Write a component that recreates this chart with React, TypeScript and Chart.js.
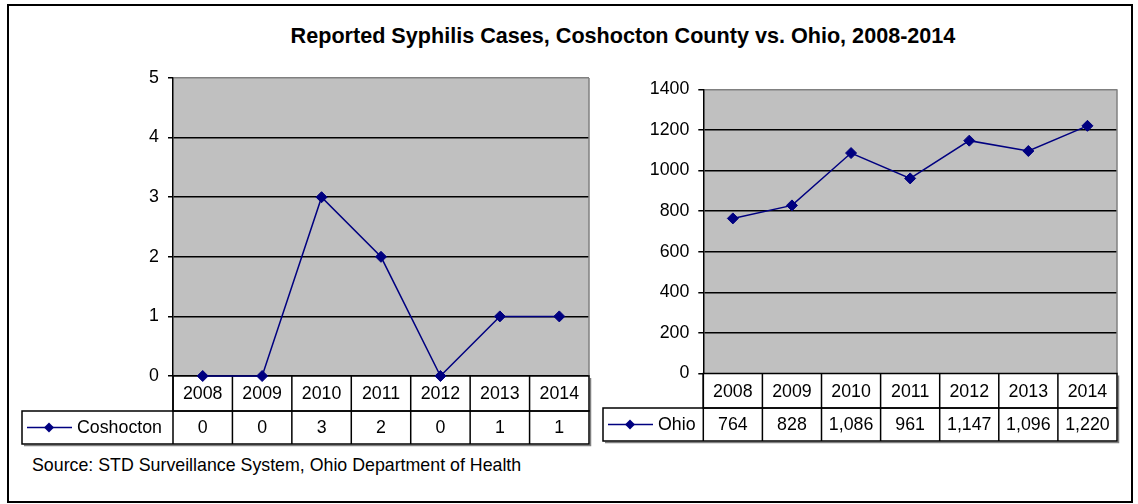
import React, { useEffect, useRef } from 'react';
import { Chart, registerables } from 'chart.js';

Chart.register(...registerables);

const FONT = '"Liberation Sans", Arial, Helvetica, sans-serif';
const NAVY = '#000080';
const TEXT_SIZE = 17.8;

const chartTitle = 'Reported Syphilis Cases, Coshocton County vs. Ohio, 2008-2014';
const sourceNote = 'Source: STD Surveillance System, Ohio Department of Health';

const years = ['2008', '2009', '2010', '2011', '2012', '2013', '2014'];
const coshoctonCases = [0, 0, 3, 2, 0, 1, 1];
const ohioCases = [764, 828, 1086, 961, 1147, 1096, 1220];

const coshoctonAxis = { min: 0, max: 5, step: 1 };
const ohioAxis = { min: 0, max: 1400, step: 200 };

type PanelCfg = {
  name: string;
  values: number[];
  axis: { min: number; max: number; step: number };
  width: number;
  padding: { left: number; right: number; top: number; bottom: number };
  yWidth: number;
  legendLeft: number;
  row1: number;
  row2: number;
};

function tablePlugin(cfg: PanelCfg) {
  return {
    id: 'plotTable',
    beforeDraw(chart: any) {
      const { ctx, chartArea: a } = chart;
      ctx.save();
      ctx.fillStyle = '#C0C0C0';
      ctx.fillRect(a.left, a.top, a.right - a.left, a.bottom - a.top);
      ctx.restore();
    },
    beforeDatasetsDraw(chart: any) {
      const { ctx, chartArea: a } = chart;
      const x = chart.scales.x;
      const n = cfg.values.length;
      const band = (a.right - a.left) / n;
      const y0 = a.bottom;
      const y1 = y0 + cfg.row1;
      const y2 = y1 + cfg.row2;
      ctx.save();
      ctx.strokeStyle = '#808080';
      ctx.lineWidth = 1.5;
      ctx.beginPath();
      ctx.moveTo(a.right, a.top);
      ctx.lineTo(a.right, a.bottom);
      ctx.stroke();
      ctx.beginPath();
      ctx.moveTo(a.right + 1.5, y0 + 2);
      ctx.lineTo(a.right + 1.5, y2 + 1.5);
      ctx.lineTo(cfg.legendLeft + 2, y2 + 1.5);
      ctx.stroke();
      ctx.fillStyle = '#FFFFFF';
      ctx.fillRect(a.left, y0, a.right - a.left, cfg.row1);
      ctx.fillRect(cfg.legendLeft, y1, a.right - cfg.legendLeft, cfg.row2);
      ctx.strokeStyle = '#000000';
      ctx.lineWidth = 1.5;
      ctx.strokeRect(a.left, y0, a.right - a.left, cfg.row1);
      ctx.strokeRect(cfg.legendLeft, y1, a.right - cfg.legendLeft, cfg.row2);
      ctx.beginPath();
      for (let i = 0; i < n; i++) {
        const cx = x.getPixelForValue(i);
        const bx = cx - band / 2;
        ctx.moveTo(bx, y0);
        ctx.lineTo(bx, y2);
      }
      ctx.stroke();
      ctx.fillStyle = '#000000';
      ctx.font = `${TEXT_SIZE}px ${FONT}`;
      ctx.textAlign = 'center';
      ctx.textBaseline = 'middle';
      for (let i = 0; i < n; i++) {
        const cx = x.getPixelForValue(i);
        ctx.fillText(String(chart.data.labels[i]), cx, (y0 + y1) / 2 + 1);
        ctx.fillText(cfg.values[i].toLocaleString('en-US'), cx, (y1 + y2) / 2 + 1);
      }
      const ly = (y1 + y2) / 2;
      ctx.strokeStyle = NAVY;
      ctx.lineWidth = 1.5;
      ctx.beginPath();
      ctx.moveTo(cfg.legendLeft + 5, ly);
      ctx.lineTo(cfg.legendLeft + 50, ly);
      ctx.stroke();
      ctx.fillStyle = NAVY;
      const dx = cfg.legendLeft + 27;
      const r = 5;
      ctx.beginPath();
      ctx.moveTo(dx, ly - r);
      ctx.lineTo(dx + r, ly);
      ctx.lineTo(dx, ly + r);
      ctx.lineTo(dx - r, ly);
      ctx.closePath();
      ctx.fill();
      ctx.fillStyle = '#000000';
      ctx.textAlign = 'left';
      ctx.fillText(cfg.name, cfg.legendLeft + 55, ly + 1);
      ctx.restore();
    },
  };
}

function Panel({ cfg, left }: { cfg: PanelCfg; left: number }) {
  const ref = useRef<HTMLCanvasElement | null>(null);
  useEffect(() => {
    if (!ref.current) return;
    const chart = new Chart(ref.current, {
      type: 'line',
      data: {
        labels: years,
        datasets: [
          {
            label: cfg.name,
            data: cfg.values,
            borderColor: NAVY,
            backgroundColor: NAVY,
            borderWidth: 1.5,
            pointStyle: 'rectRot',
            pointRadius: 5.5,
            pointBackgroundColor: NAVY,
            pointBorderColor: NAVY,
            pointBorderWidth: 1,
            tension: 0,
            clip: false as any,
          },
        ],
      },
      options: {
        animation: false,
        responsive: false,
        maintainAspectRatio: false,
        layout: { padding: cfg.padding },
        plugins: {
          legend: { display: false },
          title: { display: false },
          tooltip: { enabled: false },
        },
        scales: {
          x: {
            type: 'category',
            display: false,
            offset: true,
          },
          y: {
            min: cfg.axis.min,
            max: cfg.axis.max,
            afterFit: (s: any) => {
              s.width = cfg.yWidth;
            },
            ticks: {
              stepSize: cfg.axis.step,
              color: '#000000',
              padding: 9,
              font: { family: FONT, size: TEXT_SIZE },
              callback: (v: any) => String(v),
            },
            grid: {
              color: (c: any) => (c.tick && c.tick.value === cfg.axis.max ? '#808080' : '#000000'),
              tickColor: '#000000',
              lineWidth: 1.5,
              tickLength: 5,
            },
            border: { display: true, color: '#000000', width: 1.5 },
          },
        },
      },
      plugins: [tablePlugin(cfg)],
    });
    return () => chart.destroy();
  }, [cfg]);
  return (
    <canvas
      ref={ref}
      width={cfg.width}
      height={504}
      style={{ position: 'absolute', left, top: 0, width: cfg.width, height: 504 }}
    />
  );
}

const leftCfg: PanelCfg = {
  name: 'Coshocton',
  values: coshoctonCases,
  axis: coshoctonAxis,
  width: 596,
  yWidth: 60,
  padding: { left: 113, right: 7, top: 78, bottom: 128 },
  legendLeft: 22,
  row1: 35,
  row2: 33,
};

const rightCfg: PanelCfg = {
  name: 'Ohio',
  values: ohioCases,
  axis: ohioAxis,
  width: 542,
  yWidth: 80,
  padding: { left: 27.3, right: 21, top: 89.3, bottom: 130.5 },
  legendLeft: 603 - 596,
  row1: 34.5,
  row2: 33,
};

export default function App() {
  return (
    <div
      style={{
        position: 'fixed',
        left: 0,
        top: 0,
        width: 1138,
        height: 504,
        background: '#FFFFFF',
        overflow: 'hidden',
        fontFamily: FONT,
      }}
    >
      <div
        style={{
          position: 'absolute',
          left: 7,
          top: 4,
          width: 1122,
          height: 495,
          border: '2px solid #000000',
        }}
      />
      <div
        style={{
          position: 'absolute',
          left: 0,
          top: 24,
          width: 1246,
          textAlign: 'center',
          fontWeight: 'bold',
          fontSize: 21.6,
          lineHeight: '24px',
          whiteSpace: 'nowrap',
          color: '#000000',
        }}
      >
        {chartTitle}
      </div>
      <div
        style={{
          position: 'absolute',
          left: 32,
          top: 454,
          fontSize: TEXT_SIZE,
          lineHeight: '22px',
          whiteSpace: 'nowrap',
          color: '#000000',
        }}
      >
        {sourceNote}
      </div>
      <Panel cfg={leftCfg} left={0} />
      <Panel cfg={rightCfg} left={596} />
    </div>
  );
}
